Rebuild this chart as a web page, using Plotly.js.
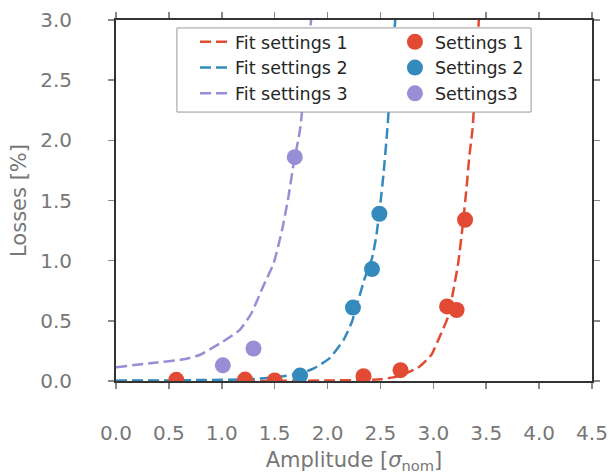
<!DOCTYPE html>
<html>
<head>
<meta charset="utf-8">
<script src="https://cdn.plot.ly/plotly-3.0.1.min.js"></script>
<style>html,body{margin:0;padding:0;background:#fff;}#chart{width:609px;height:474px;}</style>
</head>
<body>
<div id="chart"></div>
<script>
// Measured points
var settings1X = [0.57, 1.22, 1.50, 2.34, 2.69, 3.13, 3.22, 3.30];
var settings1Y = [0.01, 0.012, 0.005, 0.04, 0.09, 0.62, 0.59, 1.34];
var settings2X = [1.74, 2.24, 2.42, 2.49];
var settings2Y = [0.045, 0.61, 0.93, 1.39];
var settings3X = [1.01, 1.30, 1.69];
var settings3Y = [0.13, 0.27, 1.86];

// Fit curves
var fit1X = [0.0, 0.5, 1.0, 1.5, 2.0, 2.3, 2.5, 2.68, 2.87, 2.98, 3.06, 3.14, 3.19, 3.235, 3.28, 3.315, 3.34, 3.37, 3.40, 3.43, 3.46];
var fit1Y = [0.0, 0.0, 0.0, 0.001, 0.004, 0.008, 0.014, 0.042, 0.12, 0.216, 0.368, 0.535, 0.756, 0.978, 1.31, 1.615, 1.865, 2.09, 2.5, 3.0, 3.5];
var fit2X = [0.0, 0.5, 0.79, 1.27, 1.55, 1.74, 1.87, 2.02, 2.15, 2.23, 2.29, 2.35, 2.42, 2.46, 2.50, 2.53, 2.565, 2.60, 2.64, 2.68];
var fit2Y = [0.003, 0.005, 0.008, 0.014, 0.036, 0.06, 0.105, 0.19, 0.34, 0.49, 0.67, 0.85, 1.02, 1.2, 1.48, 1.73, 2.09, 2.53, 3.0, 3.5];
var fit3X = [0.0, 0.32, 0.64, 0.79, 1.01, 1.17, 1.28, 1.39, 1.49, 1.57, 1.63, 1.68, 1.74, 1.79, 1.85, 1.90];
var fit3Y = [0.115, 0.147, 0.18, 0.216, 0.327, 0.424, 0.563, 0.784, 0.978, 1.255, 1.53, 1.81, 2.09, 2.52, 3.05, 3.5];

var xTicks = [0.0, 0.5, 1.0, 1.5, 2.0, 2.5, 3.0, 3.5, 4.0, 4.5];
var yTicks = [0.0, 0.5, 1.0, 1.5, 2.0, 2.5, 3.0];

var red = '#E24A33', blue = '#348ABD', purple = '#988ED5';
var dash = '11px,5px';

function fit(x, y, name, color) {
  return {x: x, y: y, name: name, type: 'scatter', mode: 'lines',
    line: {color: color, width: 2.5, dash: dash, shape: 'spline', smoothing: 0.5}, legend: 'legend', hoverinfo: 'skip'};
}
function pts(x, y, name, color) {
  return {x: x, y: y, name: name, type: 'scatter', mode: 'markers',
    marker: {color: color, size: 16, line: {width: 0}}, legend: 'legend2'};
}

var data = [
  fit(fit1X, fit1Y, 'Fit settings 1', red),
  fit(fit2X, fit2Y, 'Fit settings 2', blue),
  fit(fit3X, fit3Y, 'Fit settings 3', purple),
  pts(settings1X, settings1Y, 'Settings 1', red),
  pts(settings2X, settings2Y, 'Settings 2', blue),
  pts(settings3X, settings3Y, 'Settings3', purple)
];

var gray = '#777777';
var axisCommon = {
  showgrid: false, zeroline: false, showline: true, linecolor: '#333333', linewidth: 2,
  mirror: 'ticks', ticks: 'outside', ticklen: 6, tickwidth: 1.5, tickcolor: '#888888',
  tickfont: {family: 'DejaVu Sans', size: 20, color: gray}
};

var layout = {
  width: 609, height: 474,
  margin: {l: 116, r: 17, t: 20, b: 93},
  paper_bgcolor: '#ffffff', plot_bgcolor: '#ffffff',
  font: {family: 'DejaVu Sans'},
  showlegend: true,
  xaxis: Object.assign({}, axisCommon, {
    range: [0, 4.5], tickvals: xTicks, ticktext: xTicks.map(function(v){return v.toFixed(1);}),
    ticklabelstandoff: 27,
    title: {text: 'Amplitude [<i>σ</i><sub>nom</sub>]', font: {family: 'DejaVu Sans', size: 21, color: gray}, standoff: 8}
  }),
  yaxis: Object.assign({}, axisCommon, {
    range: [0, 3], tickvals: yTicks, ticktext: yTicks.map(function(v){return v.toFixed(1);}),
    ticklabelstandoff: 32,
    title: {text: 'Losses [%]', font: {family: 'DejaVu Sans', size: 21, color: gray}, standoff: 8}
  }),
  legend: {x: 0.166, y: 0.989, xanchor: 'left', yanchor: 'top', bgcolor: 'rgba(0,0,0,0)', borderwidth: 0,
    font: {family: 'DejaVu Sans', size: 17.5, color: '#262626'}},
  legend2: {x: 0.586, y: 0.989, xanchor: 'left', yanchor: 'top', bgcolor: 'rgba(0,0,0,0)', borderwidth: 0,
    font: {family: 'DejaVu Sans', size: 17.5, color: '#262626'}},
  shapes: [{type: 'rect', xref: 'paper', yref: 'paper', x0: 0.128, x1: 0.872, y0: 0.745, y1: 0.978,
    line: {color: '#999999', width: 1}, fillcolor: '#ffffff', layer: 'above'}]
};

Plotly.newPlot('chart', data, layout, {displayModeBar: false, staticPlot: true});
</script>
</body>
</html>
